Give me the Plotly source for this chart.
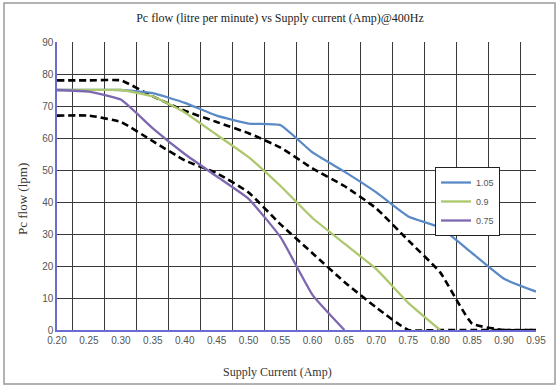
import plotly.graph_objects as go

categories = ["0.20", "0.25", "0.30", "0.35", "0.40", "0.45", "0.50", "0.55",
              "0.60", "0.65", "0.70", "0.75", "0.80", "0.85", "0.90", "0.95"]

flow_105 = [75, 75, 75, 74, 71, 67, 64.5, 64, 55.5, 49.5, 43, 35.5, 32, 24, 16, 12]
flow_09 = [75, 75, 75, 73, 68, 61, 54, 45, 35, 27, 19, 8.5, 0]
flow_075 = [75, 74.5, 72, 63, 55, 48, 41, 29, 11, 0]
upper_dashed = [78, 78, 78, 73, 68.5, 65, 61.5, 57, 50.5, 45, 38, 28, 18, 2, 0, 0]
lower_dashed = [67, 67, 65, 59, 53, 49, 43, 33, 24, 15, 7, 0, 0, 0, 0, 0]

series_names = ["1.05", "0.9", "0.75"]

fig = go.Figure()

dash_line = dict(color="black", width=2.6, dash="7px,4px", shape="spline", smoothing=0.4)
fig.add_trace(go.Scatter(x=categories[:len(upper_dashed)], y=upper_dashed, mode="lines",
                         line=dash_line, showlegend=False, hoverinfo="skip"))
fig.add_trace(go.Scatter(x=categories[:len(lower_dashed)], y=lower_dashed, mode="lines",
                         line=dash_line, showlegend=False, hoverinfo="skip"))
fig.add_trace(go.Scatter(x=categories[:len(flow_105)], y=flow_105, mode="lines", name=series_names[0],
                         line=dict(color="#5A8AC6", width=2.3, shape="spline", smoothing=0.4)))
fig.add_trace(go.Scatter(x=categories[:len(flow_09)], y=flow_09, mode="lines", name=series_names[1],
                         line=dict(color="#ADC86C", width=2.3, shape="spline", smoothing=0.4)))
fig.add_trace(go.Scatter(x=categories[:len(flow_075)], y=flow_075, mode="lines", name=series_names[2],
                         line=dict(color="#7D68B0", width=2.3, shape="spline", smoothing=0.4)))

PW, PH = 479, 288

fig.update_layout(
    width=560, height=388,
    margin=dict(l=57, r=24, t=42, b=58, autoexpand=False),
    paper_bgcolor="white", plot_bgcolor="white",
    font=dict(family="Liberation Serif, Times New Roman, serif", size=10, color="#333333"),
    title=dict(text="Pc flow (litre per minute) vs Supply current (Amp)@400Hz",
               x=0.5, xanchor="center", y=0.953, yanchor="middle",
               font=dict(family="Liberation Serif, serif", size=12, color="#222222")),
    xaxis=dict(type="category", categoryorder="array", categoryarray=categories,
               tickson="boundaries", showgrid=True, gridcolor="#3a3a3a", gridwidth=1,
               ticks="", showline=True, linecolor="#6c6cd0", linewidth=1.5, automargin=False,
               tickfont=dict(family="Liberation Sans, Arial, sans-serif", size=10, color="#555555"),
               zeroline=False, mirror=False),
    yaxis=dict(range=[0, 90], dtick=10, showgrid=True, gridcolor="#3a3a3a", gridwidth=1,
               ticks="", showline=True, linecolor="#6c6cd0", linewidth=1.5, automargin=False,
               tickfont=dict(family="Liberation Sans, Arial, sans-serif", size=10, color="#555555"),
               zeroline=False),
    legend=dict(x=(435 - 57) / PW, y=(330 - 167) / PH, xanchor="left", yanchor="top",
                bgcolor="white", bordercolor="#222222", borderwidth=1,
                font=dict(family="Liberation Sans, Arial, sans-serif", size=9, color="#555555"),
                tracegroupgap=2, itemwidth=30),
    showlegend=True,
    annotations=[
        dict(text="Supply Current (Amp)", xref="paper", yref="paper",
             x=(277 - 57) / PW, y=(330 - 372) / PH, xanchor="center", yanchor="middle",
             showarrow=False, font=dict(family="Liberation Serif, serif", size=12, color="#333333")),
        dict(text="Pc flow (lpm)", xref="paper", yref="paper", textangle=-90,
             x=(22 - 57) / PW, y=(330 - 199) / PH, xanchor="center", yanchor="middle",
             showarrow=False, font=dict(family="Liberation Serif, serif", size=13, color="#333333")),
    ],
)

fig.add_shape(type="rect", xref="paper", yref="paper",
              x0=(4 - 57) / PW, x1=(555 - 57) / PW, y0=(330 - 384) / PH, y1=(330 - 3) / PH,
              line=dict(color="#999999", width=1.5), fillcolor="rgba(0,0,0,0)", layer="below")

fig.write_html("out.html", config={"displayModeBar": False},
               post_script="document.body.style.margin='0';document.body.style.overflow='hidden';")
